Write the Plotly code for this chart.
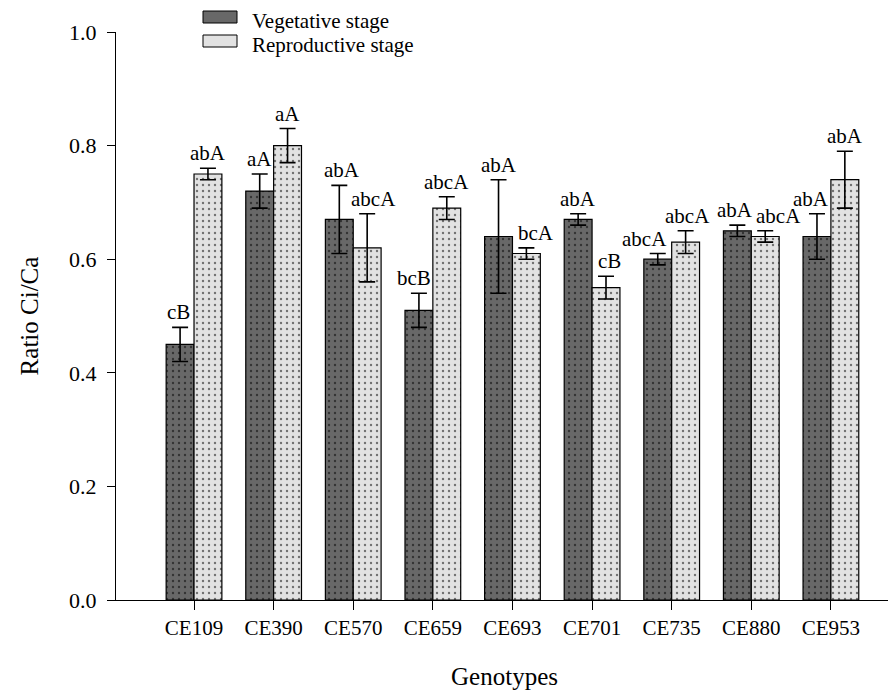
import numpy as np
import plotly.graph_objects as go

genotypes = ["CE109", "CE390", "CE570", "CE659", "CE693", "CE701", "CE735", "CE880", "CE953"]
veg_values = [0.45, 0.72, 0.67, 0.51, 0.64, 0.67, 0.60, 0.65, 0.64]
veg_errors = [0.03, 0.03, 0.06, 0.03, 0.10, 0.01, 0.01, 0.01, 0.04]
rep_values = [0.75, 0.80, 0.62, 0.69, 0.61, 0.55, 0.63, 0.64, 0.74]
rep_errors = [0.01, 0.03, 0.06, 0.02, 0.01, 0.02, 0.02, 0.01, 0.05]
veg_labels = ["cB", "aA", "abA", "bcB", "abA", "abA", "abcA", "abA", "abA"]
rep_labels = ["abA", "aA", "abcA", "abcA", "bcA", "cB", "abcA", "abcA", "abA"]
series_names = ["Vegetative stage", "Reproductive stage"]
y_ticks = [0.0, 0.2, 0.4, 0.6, 0.8, 1.0]

# horizontal label nudges in px (style only, as in the original figure)
veg_nudge = [-2, 0, 3, -5, 0, 0, -13, -2, -6]
rep_nudge = [0, 0, 6, 0, 10, 3, 2, 13, 0]

FONT = "Liberation Serif, Times New Roman, serif"
BW = 0.35
VEG_BG, REP_BG = "#686868", "#e2e2e2"
idx = np.arange(len(genotypes))

# page is offset by the 8px body margin; figure is sized to fit the window
W, H = 888, 682
ML, MR, MT, MB = 108, 3, 24, 90
PW, PH = W - ML - MR, H - MT - MB

def px_to_paper(px, py):
    # px, py are window pixels
    return (px - 8 - ML) / PW, (H - MB - (py - 8)) / PH

fig = go.Figure()

def add_series(name, vals, errs, labels, nudges, offset, bg):
    fig.add_trace(go.Bar(
        x=idx, y=vals, name=name, width=BW, offset=offset, showlegend=False,
        marker=dict(color=bg, line=dict(color="black", width=1.2),
                    pattern=dict(shape=".", fgcolor="black", bgcolor=bg, size=6, solidity=0.12)),
        error_y=dict(type="data", array=errs, visible=True, color="black", thickness=1.6, width=8),
    ))
    for i, (v, e, t, n) in enumerate(zip(vals, errs, labels, nudges)):
        fig.add_annotation(
            x=idx[i] + offset + BW / 2, y=v + e, text=t, showarrow=False,
            xref="x", yref="y", yanchor="bottom", xanchor="center",
            xshift=n, yshift=2, borderpad=0,
            font=dict(family=FONT, size=21, color="black"),
        )

add_series(series_names[0], veg_values, veg_errors, veg_labels, veg_nudge, -BW, VEG_BG)
add_series(series_names[1], rep_values, rep_errors, rep_labels, rep_nudge, 0.0, REP_BG)

# legend drawn by hand (swatch + text) so it sits above the plot like the original
for k, (name, bg) in enumerate(zip(series_names, [VEG_BG, REP_BG])):
    cy = 17 + 24 * k
    x0, y0 = px_to_paper(203, cy - 6)
    x1, y1 = px_to_paper(237, cy + 6)
    fig.add_shape(type="rect", xref="paper", yref="paper", x0=x0, x1=x1, y0=y1, y1=y0,
                  fillcolor=bg, line=dict(color="black", width=1))
    tx, ty = px_to_paper(251, cy + 4)
    fig.add_annotation(x=tx, y=ty, xref="paper", yref="paper", text=name, showarrow=False,
                       xanchor="left", yanchor="middle", borderpad=0,
                       font=dict(family=FONT, size=21, color="black"))

fig.update_layout(
    width=W, height=H,
    margin=dict(l=ML, r=MR, t=MT, b=MB),
    paper_bgcolor="white", plot_bgcolor="white",
    barmode="overlay",
    font=dict(family=FONT, color="black", size=20),
    showlegend=False,
)
fig.update_xaxes(
    range=[-0.98, 8.78], tickmode="array", tickvals=idx, ticktext=genotypes,
    showline=True, linecolor="black", linewidth=1.2, ticks="outside", ticklen=9,
    tickcolor="black", showgrid=False, zeroline=False, automargin=False,
    tickfont=dict(family=FONT, size=21),
    title=dict(text="Genotypes", font=dict(family=FONT, size=25), standoff=28),
)
fig.update_yaxes(
    range=[0, 1.0], tickmode="array", tickvals=y_ticks, ticktext=[f"{v:.1f}" for v in y_ticks],
    showline=True, linecolor="black", linewidth=1.2, ticks="outside", ticklen=8,
    tickcolor="black", showgrid=False, zeroline=False, automargin=False,
    ticklabelstandoff=6,
    tickfont=dict(family=FONT, size=22),
    title=dict(text="Ratio Ci/Ca", font=dict(family=FONT, size=25), standoff=23),
)

fig.write_html("out.html")
